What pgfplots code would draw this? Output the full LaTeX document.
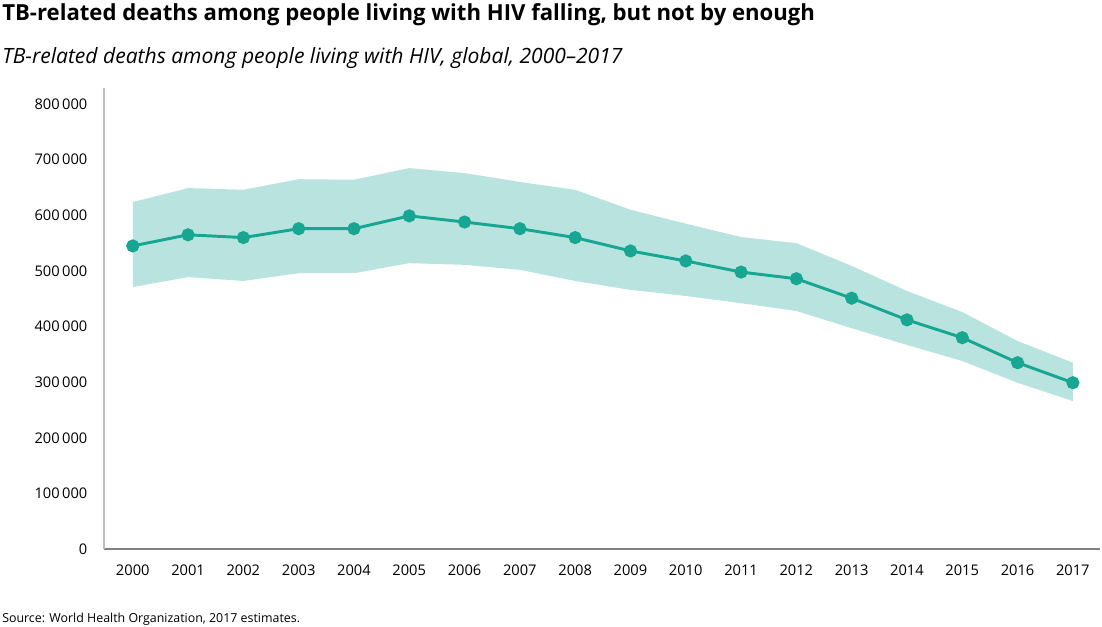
\documentclass[border=0pt]{standalone}
\usepackage{pgfplots}
\pgfplotsset{compat=1.18}
\usepackage{fontspec}
\setmainfont{Open Sans}
\definecolor{teal1}{HTML}{17A691}
\definecolor{band}{HTML}{B8E3DF}
\begin{document}
\begin{tikzpicture}
\useasboundingbox (0,0) rectangle (826.5pt,469.5pt);
\node[anchor=base west,inner sep=0pt,font=\fontsize{16.6}{18}\selectfont\bfseries] at (1.5pt,453.75pt) {TB-related deaths among people living with HIV falling, but not by enough};
\node[anchor=base west,inner sep=0pt,font=\fontsize{15.8}{17}\selectfont\itshape] at (1.5pt,421.5pt) {TB-related deaths among people living with HIV, global, 2000--2017};
\node[anchor=base west,inner sep=0pt,font=\fontsize{9.3}{10}\selectfont] at (1.5pt,3pt) {Source: World Health Organization, 2017 estimates.};
\begin{axis}[
  at={(78pt,57.75pt)}, anchor=origin,
  scale only axis, width=747pt, height=345.75pt,
  xmin=1999.48, xmax=2017.49, ymin=0, ymax=829000,
  axis x line*=bottom, axis y line*=left,
  x axis line style={draw=black!50,line width=0.9pt,-},
  y axis line style={draw=black!25,line width=1.3pt,-},
  xtick={2000,...,2017}, ytick={0,100000,...,800000},
  scaled y ticks=false,
  xticklabels={2000,2001,2002,2003,2004,2005,2006,2007,2008,2009,2010,2011,2012,2013,2014,2015,2016,2017},
  yticklabels={0,100\,000,200\,000,300\,000,400\,000,500\,000,600\,000,700\,000,800\,000},
  major tick length=0pt,
  xticklabel style={font=\fontsize{11}{12}\selectfont,yshift=-8pt},
  yticklabel style={font=\fontsize{11}{12}\selectfont,xshift=-9pt},
  clip=false,
]
\addplot[draw=none,fill=band] coordinates {
(2000,624000)(2001,649000)(2002,646000)(2003,665000)(2004,664000)(2005,685000)(2006,676000)(2007,660000)(2008,646000)(2009,610000)(2010,585000)(2011,561000)(2012,550000)(2013,509000)(2014,464000)(2015,426000)(2016,374000)(2017,335000)
(2017,266000)(2016,299000)(2015,338000)(2014,367000)(2013,397000)(2012,428000)(2011,442000)(2010,455000)(2009,466000)(2008,482000)(2007,502000)(2006,511000)(2005,514000)(2004,496000)(2003,496000)(2002,482000)(2001,489000)(2000,471000)
} --cycle;
\addplot[teal1,line width=2.2pt,mark=*,mark size=3.8pt,mark options={solid,fill=teal1,draw=none}] coordinates {
(2000,545000)(2001,565000)(2002,560000)(2003,576000)(2004,576000)(2005,599000)(2006,588000)(2007,576000)(2008,560000)(2009,536000)(2010,518000)(2011,498000)(2012,486000)(2013,451000)(2014,412000)(2015,380000)(2016,335000)(2017,299000)
};
\end{axis}
\end{tikzpicture}
\end{document}
